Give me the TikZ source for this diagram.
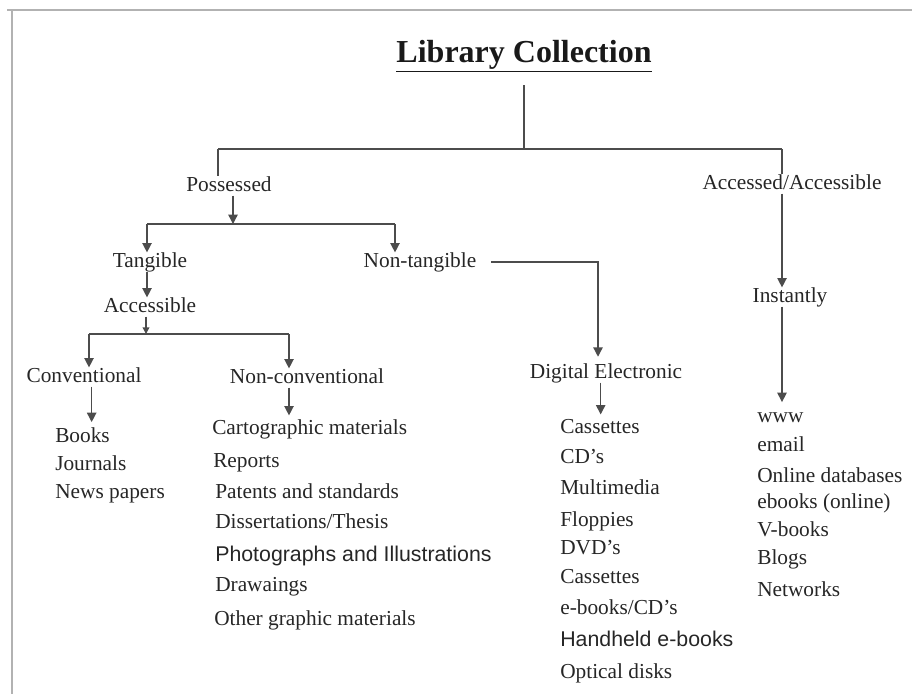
\documentclass[tikz,border=0pt]{standalone}
\usepackage{fontspec}
\setmainfont{Liberation Serif}
\setsansfont{Liberation Sans}
\usetikzlibrary{arrows.meta}

\begin{document}
\begin{tikzpicture}[x=0.75pt,y=-0.75pt,
    lbl/.style={inner sep=0pt,text height=11pt,text depth=3pt,
      font=\fontsize{16}{19}\selectfont,text=black!85},
    item/.style={lbl,anchor=west},
    sfitem/.style={item,font=\sffamily\fontsize{16}{19}\selectfont},
    wire/.style={draw=black!70,line width=1pt},
    arr/.style={wire,-{Triangle[width=7pt,length=7pt]}},
  ]
  \useasboundingbox (0,0) rectangle (912,694);
  % frame (top and left edge only)
  \draw[black!30,line width=1.2pt] (7,10) -- (912,10);
  \draw[black!30,line width=1.2pt] (12,10) -- (12,694);

  \node[inner sep=0pt,font=\bfseries\fontsize{24}{28}\selectfont,text=black!90] (title) at (524,56) {\underline{Library Collection}};

  \node[lbl] (poss)  at (229,186) {Possessed};
  \node[lbl] (acc)   at (792,184) {Accessed/Accessible};
  \node[lbl] (inst)  at (790,297) {Instantly};
  \node[lbl] (tang)  at (150,262) {Tangible};
  \node[lbl] (ntang) at (420,262) {Non-tangible};
  \node[lbl] (accs)  at (150,307) {Accessible};
  \node[lbl] (conv)  at (84,377) {Conventional};
  \node[lbl] (nconv) at (307,378) {Non-conventional};
  \node[lbl] (dig)   at (606,373) {Digital Electronic};

  % conventional
  \node[item] (books) at (55,437) {Books};
  \node[item] (jour)  at (55,465) {Journals};
  \node[item] (news)  at (55,493) {News papers};

  % non-conventional
  \node[item]   (cart)  at (212,429) {Cartographic materials};
  \node[item]   (rep)   at (213,462) {Reports};
  \node[item]   (pat)   at (215,493) {Patents and standards};
  \node[item]   (diss)  at (215,523) {Dissertations/Thesis};
  \node[sfitem] (photo) at (215,556) {Photographs and Illustrations};
  \node[item]   (draw)  at (215,586) {Drawaings};
  \node[item]   (other) at (214,620) {Other graphic materials};

  % digital electronic
  \node[item]   (cas1)  at (560,428) {Cassettes};
  \node[item]   (cd)    at (560,458) {CD's};
  \node[item]   (multi) at (560,489) {Multimedia};
  \node[item]   (flop)  at (560,521) {Floppies};
  \node[item]   (dvd)   at (560,549) {DVD's};
  \node[item]   (cas2)  at (560,578) {Cassettes};
  \node[item]   (ebcd)  at (560,609) {e-books/CD's};
  \node[sfitem] (hand)  at (560,641) {Handheld e-books};
  \node[item]   (opt)   at (560,673) {Optical disks};

  % instantly
  \node[item] (www)   at (757,417) {www};
  \node[item] (email) at (757,446) {email};
  \node[item] (odb)   at (757,477) {Online databases};
  \node[item] (ebon)  at (757,503) {ebooks (online)};
  \node[item] (vb)    at (757,531) {V-books};
  \node[item] (blog)  at (757,559) {Blogs};
  \node[item] (net)   at (757,591) {Networks};

  \coordinate (root)     at (524,149);
  \coordinate (possbar)  at (218,149);
  \coordinate (accbar)   at (782,149);
  \coordinate (pbar)     at (233,224);
  \coordinate (tangbar)  at (147,224);
  \coordinate (ntangbar) at (395,224);
  \coordinate (abar)     at (146,334);
  \coordinate (convbar)  at (89,334);
  \coordinate (nconvbar) at (289,334);
  \coordinate (digx)     at (598,262);

  \draw[wire, shorten <=10pt] (title.south) -- (root);
  \draw[wire] (possbar) -- (accbar);
  \draw[wire] (possbar) -- (possbar |- poss.north);
  \draw[wire] (accbar) -- (accbar |- acc.north);
  \draw[arr] (accbar |- acc.south) -- (accbar |- inst.north);
  \draw[arr, shorten >=4pt] (accbar |- inst.south) -- (accbar |- www.north);

  \draw[arr] (poss.south -| pbar) -- (pbar);
  \draw[wire] (tangbar) -- (ntangbar);
  \draw[arr] (tangbar) -- (tangbar |- tang.north);
  \draw[arr] (ntangbar) -- (ntangbar |- ntang.north);
  \draw[arr] (tang.south -| tangbar) -- (tangbar |- accs.north);

  \draw[arr, -{Triangle[width=5pt,length=5pt]}] (accs.south -| abar) -- (abar);
  \draw[wire] (convbar) -- (nconvbar);
  \draw[arr] (convbar) -- (convbar |- conv.north);
  \draw[arr] (nconvbar) -- (nconvbar |- nconv.north);
  \draw[arr, shorten >=4pt] ([xshift=2pt]convbar |- conv.south) -- ([xshift=2pt]convbar |- books.north);
  \draw[arr, shorten >=3pt] (nconvbar |- nconv.south) -- (nconvbar |- cart.north);

  \draw[arr, shorten <=11pt, shorten >=5pt] (ntang.east) -- (digx) -- (digx |- dig.north);
  \draw[arr, shorten >=3pt] ([xshift=2pt]digx |- dig.south) -- ([xshift=2pt]digx |- cas1.north);
\end{tikzpicture}
\end{document}
